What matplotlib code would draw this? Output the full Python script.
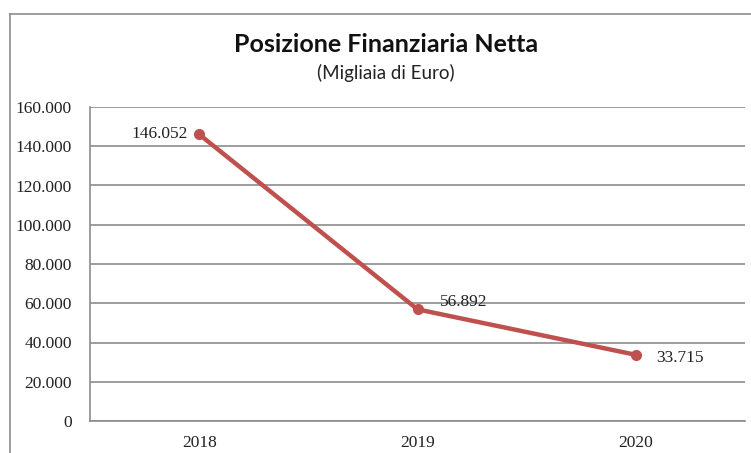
import matplotlib.pyplot as plt
from matplotlib.lines import Line2D
from matplotlib.ticker import FuncFormatter

anni = ["2018", "2019", "2020"]
pfn = [146052, 56892, 33715]
etichette = ["146.052", "56.892", "33.715"]
y_ticks = [0, 20000, 40000, 60000, 80000, 100000, 120000, 140000, 160000]

W, H = 751, 453
fig = plt.figure(figsize=(W / 100, H / 100), dpi=100)
ax = fig.add_axes([90 / W, 32 / H, 655 / W, 314 / H])

grid_col = '#8c8c8c'
line_col = '#c0504d'
serif = ['Liberation Serif', 'DejaVu Serif']

x = list(range(len(anni)))
ax.plot(x, pfn, color=line_col, lw=3.2, marker='o', markersize=7, solid_capstyle='round')

ax.set_xlim(-0.5, len(anni) - 0.5)
ax.set_ylim(0, 160000)
ax.set_yticks(y_ticks)
ax.yaxis.set_major_formatter(FuncFormatter(lambda v, p: f"{int(v):,}".replace(",", ".")))
ax.set_xticks(x)
ax.set_xticklabels(anni)
ax.grid(axis='y', color=grid_col, lw=1.2)
ax.set_axisbelow(True)
ax.tick_params(length=0, labelsize=12.5, labelcolor='#222222')
ax.tick_params(axis='y', pad=13)
ax.tick_params(axis='x', pad=10)
for lab in ax.get_xticklabels() + ax.get_yticklabels():
    lab.set_fontfamily(serif)
for s in ['top', 'right']:
    ax.spines[s].set_visible(False)
for s in ['left', 'bottom']:
    ax.spines[s].set_color(grid_col)
    ax.spines[s].set_linewidth(1.2)

# data labels
offsets = [(-8, 0, 'right'), (16, 5, 'left'), (15, -2, 'left')]
for xi, yi, t, (dx, dy, ha) in zip(x, pfn, etichette, offsets):
    ax.annotate(t, (xi, yi), xytext=(dx, dy), textcoords='offset points',
                ha=ha, va='center', fontsize=12.5, family=serif, color='#222222')

fig.text(386 / W, 1 - 45 / H, "Posizione Finanziaria Netta", ha='center', va='center',
         fontsize=18, fontweight='bold', family=['Lato', 'DejaVu Sans'], color='#111111')
fig.text(386 / W, 1 - 73 / H, "(Migliaia di Euro)", ha='center', va='center',
         fontsize=13.5, family=['Lato', 'DejaVu Sans'], color='#222222')

# outer chart frame (cut off at right and bottom)
fig.add_artist(Line2D([10 / W, 1], [1 - 14 / H, 1 - 14 / H], color=grid_col, lw=1.2))
fig.add_artist(Line2D([10 / W, 10 / W], [0, 1 - 14 / H], color=grid_col, lw=1.2))

fig.savefig("out.png", dpi=100)
